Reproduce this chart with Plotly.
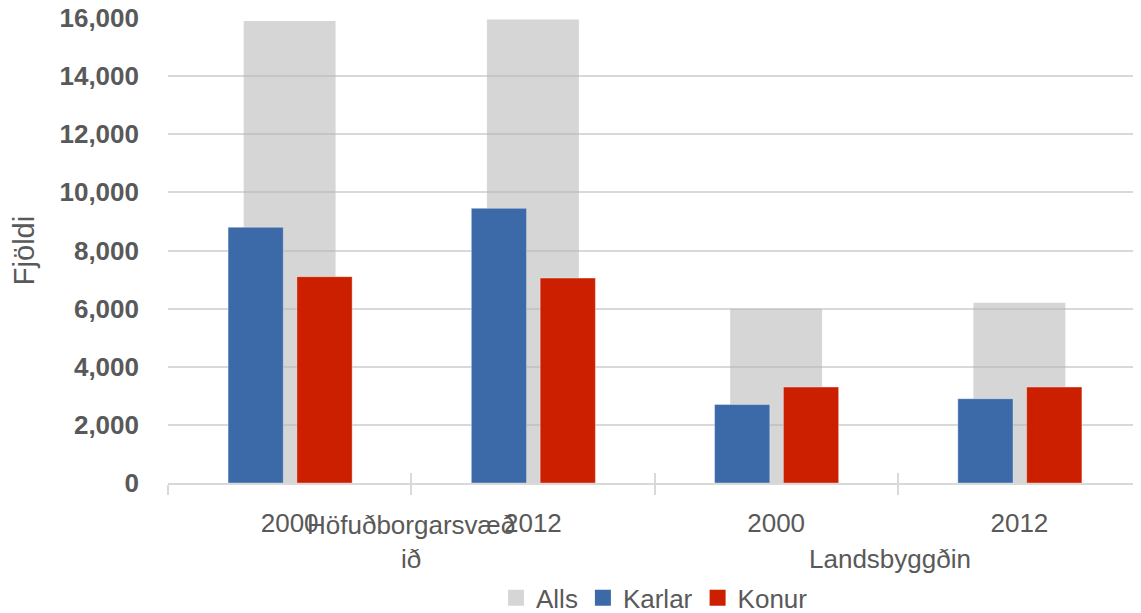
import plotly.graph_objects as go

# data
groups = ["Höfuðborgarsvæðið", "Höfuðborgarsvæðið", "Landsbyggðin", "Landsbyggðin"]
years = ["2000", "2012", "2000", "2012"]
alls = [15900, 15950, 6000, 6200]
karlar = [8800, 9450, 2700, 2900]
konur = [7100, 7050, 3300, 3300]
y_ticks = [0, 2000, 4000, 6000, 8000, 10000, 12000, 14000, 16000]

pos = list(range(len(years)))
bounds = [p - 0.5 for p in pos] + [pos[-1] + 0.5]

GREY = "rgba(180,180,180,0.55)"
BLUE = "#3c6aa8"
RED = "#cc1f00"
TXT = "#595959"
GRID = "#d9d9d9"
FONT = "Liberation Sans"

fig = go.Figure()
fig.add_trace(go.Bar(x=pos, y=alls, name="Alls", marker=dict(color=GREY, line=dict(width=0)),
                     width=0.378, offset=-0.189, showlegend=False))
fig.add_trace(go.Bar(x=pos, y=karlar, name="Karlar",
                     marker=dict(color=BLUE, line=dict(color="rgba(255,255,255,0.35)", width=1)),
                     width=0.227, offset=-0.253, showlegend=False))
fig.add_trace(go.Bar(x=pos, y=konur, name="Konur",
                     marker=dict(color=RED, line=dict(color="rgba(255,255,255,0.35)", width=1)),
                     width=0.227, offset=0.030, showlegend=False))

# legend entries with bigger square swatches
for name, col in [("Alls", "#d6d6d6"), ("Karlar", BLUE), ("Konur", RED)]:
    fig.add_trace(go.Scatter(x=[None], y=[None], mode="markers", name=name,
                             marker=dict(symbol="square", size=17, color=col)))

# year labels on an overlaid axis, boundary tick marks crossing the axis line
fig.update_layout(
    xaxis=dict(range=[-0.5, 3.5], tickvals=bounds, showticklabels=False, ticks="outside",
               ticklen=10, tickcolor=GRID, tickwidth=1.5, showline=True, linecolor=GRID,
               linewidth=1.5, showgrid=False, zeroline=False, automargin=False),
    xaxis2=dict(overlaying="x", anchor="y", side="bottom", range=[-0.5, 3.5], tickvals=bounds,
                showticklabels=False, ticks="inside", ticklen=10, tickcolor=GRID, tickwidth=1.5,
                showline=False, showgrid=False, zeroline=False, automargin=False),
    xaxis3=dict(overlaying="x", anchor="y", side="bottom", range=[-0.5, 3.5], tickvals=pos,
                ticktext=years, ticks="", ticklabelstandoff=22, showline=False, showgrid=False,
                zeroline=False, automargin=False,
                tickfont=dict(family=FONT, size=26, color=TXT)),
)
fig.add_trace(go.Scatter(x=[None], y=[None], xaxis="x2", showlegend=False))
fig.add_trace(go.Scatter(x=[None], y=[None], xaxis="x3", showlegend=False))

fig.add_annotation(x=0.5, xref="x", y=0, yref="paper", yanchor="top", yshift=-25,
                   text="Höfuðborgarsvæð<br>ið", showarrow=False,
                   font=dict(family=FONT, size=26, color=TXT))
fig.add_annotation(x=2.47, xref="x", y=0, yref="paper", yanchor="top", yshift=-59,
                   text=groups[2], showarrow=False,
                   font=dict(family=FONT, size=26, color=TXT))

# page body has an 8px margin, so the figure is 8px smaller than the window
fig.update_layout(
    width=1133, height=605,
    margin=dict(l=160, r=0, t=10, b=130, autoexpand=False),
    plot_bgcolor="white", paper_bgcolor="white",
    barmode="overlay",
    font=dict(family=FONT, color=TXT),
    yaxis=dict(range=[0, 16000], tickvals=y_ticks, tickformat=",d", ticks="",
               ticklabelstandoff=28, ticklabeloverflow="allow",
               showgrid=True, gridcolor=GRID, gridwidth=1.5,
               zeroline=False, showline=False, automargin=False,
               tickfont=dict(family=FONT, size=26, color=TXT, weight="bold"),
               title=dict(text="Fjöldi", standoff=17, font=dict(family=FONT, size=29, color=TXT))),
    legend=dict(orientation="h", x=0.5, xanchor="center", y=-0.247, yanchor="middle",
                font=dict(family=FONT, size=26, color=TXT), itemwidth=30, tracegroupgap=0),
)

fig.write_html("out.html")
